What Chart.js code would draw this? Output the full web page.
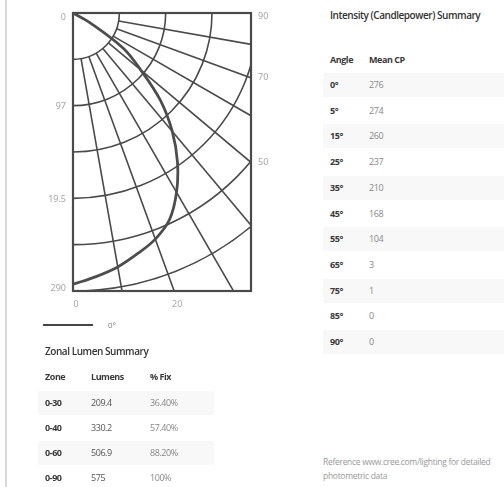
<!DOCTYPE html>
<html><head><meta charset="utf-8">
<script src="https://cdn.jsdelivr.net/npm/chart.js@4.4.1/dist/chart.umd.min.js"></script>
<style>
html,body{margin:0;padding:0;background:#fff;width:504px;height:487px;overflow:hidden;font-family:"Open Sans","Noto Sans",sans-serif;position:relative;}
#lborder{position:absolute;left:5px;top:0;width:2px;height:487px;background:#d8d8d8;}
#chartBox{position:absolute;left:0;top:0;width:300px;height:320px;}
.t{position:absolute;white-space:nowrap;letter-spacing:-0.45px;}
.title{font-size:10px;font-weight:600;color:#333;}
.hd{font-size:9px;font-weight:700;color:#3a3a3a;}
.c1{font-size:9px;font-weight:700;color:#3a3a3a;}
.c2{font-size:9px;color:#555;}
.c3{font-size:9px;color:#888;}
.band{position:absolute;background:#f8f8f8;}
#legLine{position:absolute;left:43px;top:324px;width:50px;height:2px;background:#444;}
#legTxt{position:absolute;left:108px;top:319px;font-size:8px;color:#777;}
#foot{position:absolute;left:323px;top:455px;width:230px;font-size:8.5px;line-height:14px;color:#999;letter-spacing:-0.3px;white-space:nowrap;}
</style>
</head><body>
<div id="lborder"></div>
<div id="chartBox"><canvas id="c"></canvas></div>
<div id="legLine"></div><div id="legTxt">0°</div>
<div id="foot">Reference www.cree.com/lighting for detailed<br>photometric data</div>
<script>
// ---- data ----
const curveAngles = [0, 5, 10, 15, 20, 25, 30, 35, 40, 45, 50, 55, 60, 65];
const curveCd     = [283, 276, 269, 260, 251, 238, 216, 190, 161, 129, 92, 64, 22, 0];
const yTickValues = [0, 97, 195, 290];
const yTickLabels = ['0', '97', '19.5', '290'];
const rightAngleLabels = [90, 70, 50];
const bottomAngleLabels = [0, 20];
const spokeAngles = [10, 20, 30, 40, 50, 60, 70, 80];
const ringCount = 6;
const legendLabel = '0°';

const zoneNames = ['0-30', '0-40', '0-60', '0-90'];
const zoneLumens = ['209.4', '330.2', '506.9', '575'];
const zonePct = ['36.40%', '57.40%', '88.20%', '100%'];

const intAngles = ['0°', '5°', '15°', '25°', '35°', '45°', '55°', '65°', '75°', '85°', '90°'];
const intCP = ['276', '274', '260', '237', '210', '168', '104', '3', '1', '0', '0'];

// ---- layout of plot ----
const Y_MAX = 290;
const PLOT = {left: 73, top: 13, right: 251, bottom: 291, boxW: 300, boxH: 320};
const X_MAX = Y_MAX * (PLOT.right - PLOT.left) / (PLOT.bottom - PLOT.top);

const curvePts = curveAngles.map((a, i) => {
  const t = a * Math.PI / 180;
  return {x: curveCd[i] * Math.sin(t), y: curveCd[i] * Math.cos(t)};
});

const polarGrid = {
  id: 'polarGrid',
  beforeDatasetsDraw(chart) {
    const {ctx, chartArea: a, scales: {x, y}} = chart;
    const ox = x.getPixelForValue(0), oy = y.getPixelForValue(0);
    const k = (y.getPixelForValue(100) - oy) / 100;
    ctx.save();
    ctx.beginPath(); ctx.rect(a.left, a.top, a.right - a.left, a.bottom - a.top); ctx.clip();
    ctx.strokeStyle = '#4a4a4a'; ctx.lineWidth = 1.6;
    const step = Y_MAX / ringCount;
    for (let i = 1; i <= ringCount; i++) {
      ctx.beginPath(); ctx.arc(ox, oy, i * step * k, 0, Math.PI / 2); ctx.stroke();
    }
    const r0 = step * k;
    for (const d of spokeAngles) {
      const t = d * Math.PI / 180;
      ctx.beginPath();
      ctx.moveTo(ox + r0 * Math.sin(t), oy + r0 * Math.cos(t));
      ctx.lineTo(ox + 1000 * Math.sin(t), oy + 1000 * Math.cos(t));
      ctx.stroke();
    }
    ctx.restore();
    ctx.save();
    ctx.strokeStyle = '#4a4a4a'; ctx.lineWidth = 2.2;
    ctx.strokeRect(a.left, a.top, a.right - a.left, a.bottom - a.top);
    ctx.restore();
  },
  afterDraw(chart) {
    const {ctx, chartArea: a, scales: {x, y}} = chart;
    ctx.save();
    ctx.fillStyle = '#a5a5a5';
    ctx.font = '9px "Noto Sans", sans-serif';
    ctx.textBaseline = 'middle';
    ctx.textAlign = 'right';
    yTickValues.forEach((v, i) => {
      let py = y.getPixelForValue(v);
      if (i === 0) py += 4;
      if (i === yTickValues.length - 1) py -= 3;
      ctx.fillText(yTickLabels[i], a.left - 7, py);
    });
    ctx.textAlign = 'left';
    rightAngleLabels.forEach(d => {
      const t = d * Math.PI / 180;
      const yy = d === 90 ? 0 : X_MAX / Math.tan(t);
      let py = y.getPixelForValue(Math.max(0, yy));
      if (d === 90) py += 3;
      ctx.fillText(String(d), a.right + 7, py);
    });
    ctx.textAlign = 'center';
    bottomAngleLabels.forEach(d => {
      const xx = Y_MAX * Math.tan(d * Math.PI / 180);
      ctx.fillText(String(d), x.getPixelForValue(xx) + 3, a.bottom + 13);
    });
    ctx.restore();
  }
};

new Chart(document.getElementById('c'), {
  type: 'scatter',
  data: {datasets: [{
    label: legendLabel,
    data: curvePts,
    showLine: true,
    borderColor: '#4d4d4d',
    borderWidth: 2.8,
    pointRadius: 0,
    tension: 0.35,
    clip: 0
  }]},
  options: {
    responsive: true, maintainAspectRatio: false, animation: false,
    layout: {padding: {left: PLOT.left, top: PLOT.top, right: PLOT.boxW - PLOT.right, bottom: PLOT.boxH - PLOT.bottom}},
    plugins: {legend: {display: false}, tooltip: {enabled: false}},
    scales: {
      x: {type: 'linear', min: 0, max: X_MAX, display: false},
      y: {type: 'linear', min: 0, max: Y_MAX, reverse: true, display: false}
    }
  },
  plugins: [polarGrid]
});

// ---- tables ----
function txt(cls, s, left, cy, h) {
  const d = document.createElement('div');
  d.className = 't ' + cls; d.textContent = s;
  d.style.left = left + 'px'; d.style.top = (cy - h / 2) + 'px';
  d.style.lineHeight = h + 'px';
  document.body.appendChild(d);
}
function band(left, width, cy, h) {
  const d = document.createElement('div');
  d.className = 'band';
  d.style.left = left + 'px'; d.style.width = width + 'px';
  d.style.top = (cy - h / 2) + 'px'; d.style.height = h + 'px';
  document.body.appendChild(d);
}
// zonal table
const zRowY = [403, 428, 453, 478];
zRowY.forEach((cy, i) => { if (i % 2 === 0) band(38, 176, cy, 24); });
txt('title', 'Zonal Lumen Summary', 45, 351, 14);
txt('hd', 'Zone', 45, 377, 14); txt('hd', 'Lumens', 91, 377, 14); txt('hd', '% Fix', 150, 377, 14);
zoneNames.forEach((z, i) => {
  txt('c1', z, 45, zRowY[i], 14);
  txt('c2', zoneLumens[i], 91, zRowY[i], 14);
  txt('c3', zonePct[i], 150, zRowY[i], 14);
});
// intensity table
txt('title', 'Intensity (Candlepower) Summary', 330, 15, 14);
txt('hd', 'Angle', 330, 60, 14); txt('hd', 'Mean CP', 369, 60, 14);
intAngles.forEach((a, i) => {
  const cy = 85 + i * 25.7;
  if (i % 2 === 0) band(323, 181, cy, 24);
  txt('c1', a, 330, cy, 14);
  txt('c3', intCP[i], 369, cy, 14);
});
</script>
</body></html>
